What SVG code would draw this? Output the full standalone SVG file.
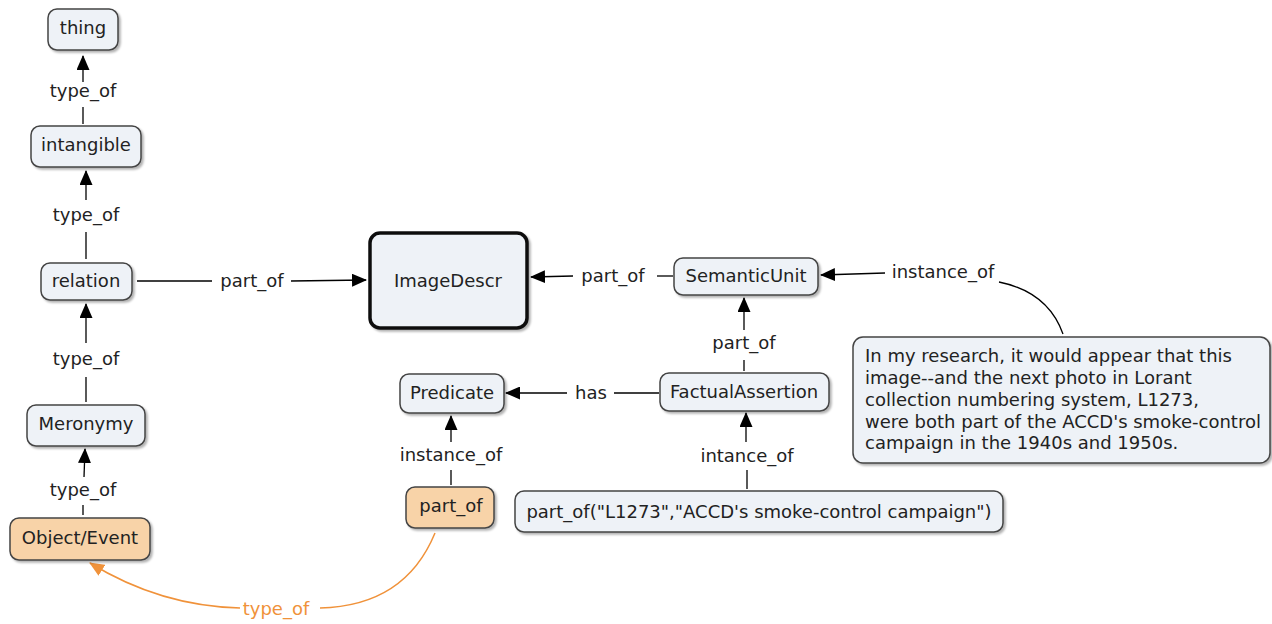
<svg xmlns="http://www.w3.org/2000/svg" width="1272" height="624" viewBox="0 0 1272 624">
<defs>
<marker id="ah" markerWidth="15" markerHeight="13" refX="14" refY="6.5" orient="auto" markerUnits="userSpaceOnUse"><path d="M0,0 L15,6.5 L0,13 Z" fill="#000"/></marker>
<marker id="aho" markerWidth="15" markerHeight="13" refX="14" refY="6.5" orient="auto" markerUnits="userSpaceOnUse"><path d="M0,0 L15,6.5 L0,13 Z" fill="#f0923a"/></marker>
<filter id="sh" x="-10%" y="-10%" width="130%" height="140%"><feDropShadow dx="2" dy="2" stdDeviation="1.2" flood-color="#000" flood-opacity="0.3"/></filter>
</defs>
<style>
text{font-family:"DejaVu Sans",Verdana,sans-serif;font-size:18px;fill:#222}
.n{fill:#eef2f7;stroke:#444;stroke-width:1.5;filter:url(#sh)}
.o{fill:#f8d3a8;stroke:#444;stroke-width:1.5;filter:url(#sh)}
.c{fill:none;stroke:#000;stroke-width:1.3}
.co{fill:none;stroke:#f0923a;stroke-width:1.5}
.l{text-anchor:middle}
.lo{text-anchor:middle;fill:#f0923a}
</style>
<rect width="1272" height="624" fill="#fff"/>
<g id="connectors">
<line class="c" x1="83" y1="82" x2="83" y2="56" marker-end="url(#ah)"/>
<line class="c" x1="83" y1="107" x2="83" y2="124"/>
<text class="l" x="83" y="97">type_of</text>
<line class="c" x1="86" y1="200" x2="86" y2="171" marker-end="url(#ah)"/>
<line class="c" x1="86" y1="232" x2="86" y2="259"/>
<text class="l" x="86" y="221">type_of</text>
<line class="c" x1="86" y1="343" x2="86" y2="304" marker-end="url(#ah)"/>
<line class="c" x1="86" y1="377" x2="86" y2="402"/>
<text class="l" x="86" y="365">type_of</text>
<line class="c" x1="84" y1="477" x2="85" y2="449" marker-end="url(#ah)"/>
<line class="c" x1="83" y1="505" x2="83" y2="515"/>
<text class="l" x="83" y="496">type_of</text>
<line class="c" x1="137" y1="281" x2="212" y2="281"/>
<line class="c" x1="291" y1="281" x2="366" y2="280" marker-end="url(#ah)"/>
<text class="l" x="252" y="287">part_of</text>
<line class="c" x1="673" y1="276" x2="657" y2="276"/>
<line class="c" x1="573" y1="276" x2="531" y2="277" marker-end="url(#ah)"/>
<text class="l" x="613" y="282">part_of</text>
<line class="c" x1="744" y1="330" x2="744" y2="298" marker-end="url(#ah)"/>
<line class="c" x1="744" y1="360" x2="744" y2="371"/>
<text class="l" x="744" y="349">part_of</text>
<line class="c" x1="659" y1="393" x2="614" y2="393"/>
<line class="c" x1="567" y1="393" x2="506" y2="393" marker-end="url(#ah)"/>
<text class="l" x="591" y="399">has</text>
<line class="c" x1="451" y1="442" x2="451" y2="416" marker-end="url(#ah)"/>
<line class="c" x1="451" y1="470" x2="451" y2="485"/>
<text class="l" x="451" y="461">instance_of</text>
<line class="c" x1="746" y1="442" x2="746" y2="413" marker-end="url(#ah)"/>
<line class="c" x1="747" y1="470" x2="747" y2="489"/>
<text class="l" x="747" y="462">intance_of</text>
<line class="c" x1="885" y1="273" x2="821" y2="275" marker-end="url(#ah)"/>
<path class="c" d="M999,282 Q1048,292 1063,334"/>
<text class="l" x="943" y="278">instance_of</text>
<path class="co" d="M435,533 Q405,606 320,608"/>
<path class="co" d="M240,608 Q160,606 90,563" marker-end="url(#aho)"/>
<text class="lo" x="276" y="615">type_of</text>
</g>
<g id="thing"><rect class="n" x="48" y="9" width="70" height="41" rx="9"/><text class="l" x="83" y="34">thing</text></g>
<g id="intangible"><rect class="n" x="31" y="126" width="110" height="41" rx="9"/><text class="l" x="86" y="151">intangible</text></g>
<g id="relation"><rect class="n" x="41" y="263" width="91" height="37" rx="9"/><text class="l" x="86" y="287">relation</text></g>
<g id="meronymy"><rect class="n" x="27" y="405" width="118" height="41" rx="9"/><text class="l" x="86" y="430">Meronymy</text></g>
<g id="objectevent"><rect class="o" x="10" y="518" width="140" height="42" rx="9"/><text class="l" x="80" y="544">Object/Event</text></g>
<g id="imagedescr"><rect x="370" y="233" width="157" height="95" rx="10" fill="#eef2f7" stroke="#111" stroke-width="3.5" filter="url(#sh)"/><text class="l" x="448" y="287">ImageDescr</text></g>
<g id="semanticunit"><rect class="n" x="674" y="258" width="144" height="37" rx="9"/><text class="l" x="746" y="282">SemanticUnit</text></g>
<g id="factualassertion"><rect class="n" x="660" y="373" width="169" height="38" rx="9"/><text class="l" x="744" y="398">FactualAssertion</text></g>
<g id="predicate"><rect class="n" x="400" y="374" width="104" height="39" rx="9"/><text class="l" x="452" y="399">Predicate</text></g>
<g id="partof"><rect class="o" x="406" y="487" width="88" height="41" rx="9"/><text class="l" x="451" y="512">part_of</text></g>
<g id="assertion"><rect class="n" x="515" y="491" width="488" height="41" rx="9"/><text class="l" x="759" y="518">part_of("L1273","ACCD's smoke-control campaign")</text></g>
<g id="comment"><rect class="n" x="853" y="337" width="417" height="126" rx="10"/>
<text x="865" y="362">In my research, it would appear that this</text>
<text x="865" y="384">image--and the next photo in Lorant</text>
<text x="865" y="406">collection numbering system, L1273,</text>
<text x="865" y="428">were both part of the ACCD's smoke-control</text>
<text x="865" y="449">campaign in the 1940s and 1950s.</text>
</g>
</svg>
